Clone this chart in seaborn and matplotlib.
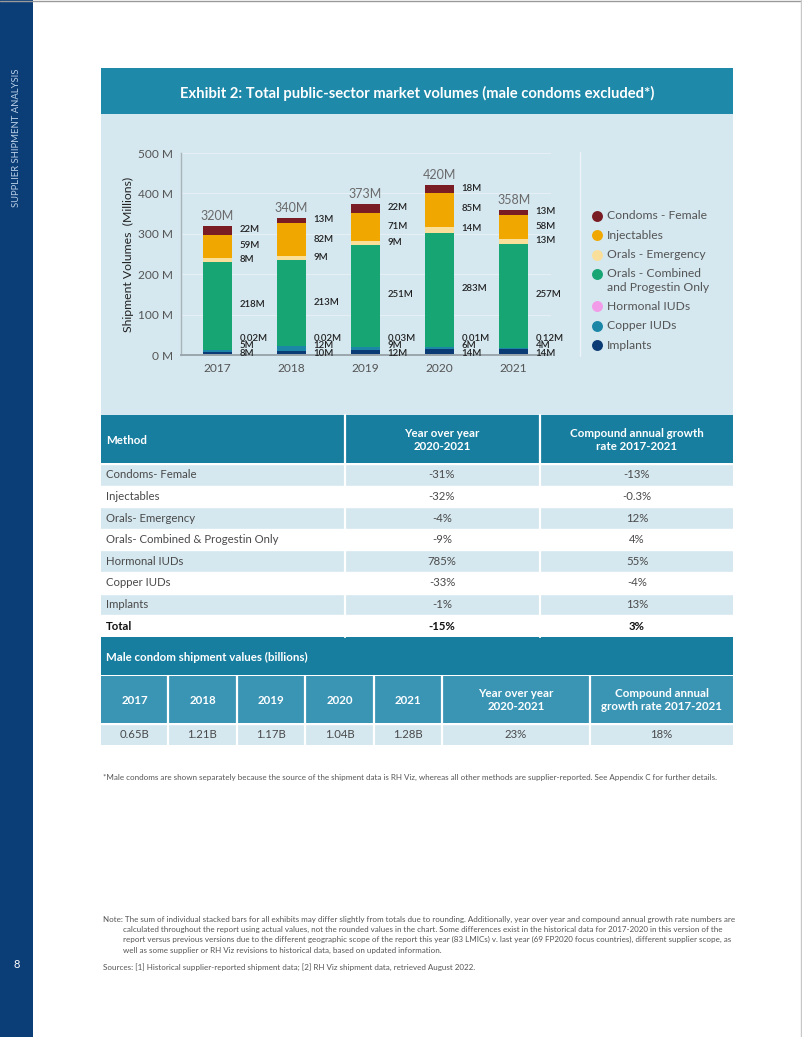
import numpy as np
import pandas as pd
import matplotlib
matplotlib.use("Agg")
import matplotlib.pyplot as plt
from matplotlib.patches import Rectangle
import seaborn as sns

# ---- data read from the exhibit ----
years = ["2017", "2018", "2019", "2020", "2021"]
implants = [8, 10, 12, 14, 14]
copper_iuds = [5, 12, 9, 6, 4]
hormonal_iuds = [0.02, 0.02, 0.03, 0.01, 0.12]
orals_combined = [218, 213, 251, 283, 257]
orals_emergency = [8, 9, 9, 14, 13]
injectables = [59, 82, 71, 85, 58]
condoms_female = [22, 13, 22, 18, 13]
total_labels = ["320M", "340M", "373M", "420M", "358M"]

series_names = ["Implants", "Copper IUDs", "Hormonal IUDs",
                "Orals - Combined\nand Progestin Only", "Orals - Emergency",
                "Injectables", "Condoms - Female"]
series_colors = ["#0B3B74", "#1B86A6", "#F29BE8", "#17A673",
                 "#FADF9B", "#F0A800", "#7A1C24"]

methods = ["Condoms- Female", "Injectables", "Orals- Emergency",
           "Orals- Combined & Progestin Only", "Hormonal IUDs",
           "Copper IUDs", "Implants", "Total"]
yoy_2020_2021 = ["-31%", "-32%", "-4%", "-9%", "785%", "-33%", "-1%", "-15%"]
cagr_2017_2021 = ["-13%", "-0.3%", "12%", "4%", "55%", "-4%", "13%", "3%"]

male_values = ["0.65B", "1.21B", "1.17B", "1.04B", "1.28B"]
male_yoy = "23%"
male_cagr = "18%"

sns.set_theme(style="white")
plt.rcParams["font.family"] = ["Lato", "DejaVu Sans"]

TEAL_TITLE = "#1E89A9"
TEAL_HEAD = "#177E9F"
TEAL_SUB = "#3A95B5"
PANEL = "#D5E7EF"
TXT = "#4a4a4a"

fig = plt.figure(figsize=(8.02, 10.37), dpi=100)
fig.patch.set_facecolor("white")

# page layer in pixel coordinates
pg = fig.add_axes([0, 0, 1, 1], zorder=0)
pg.set_xlim(0, 802)
pg.set_ylim(1037, 0)
pg.axis("off")


def box(x, y, w, h, c):
    pg.add_patch(Rectangle((x, y), w, h, color=c, lw=0))


# sidebar and page edges
box(0, 0, 33, 1037, "#0B3D77")
pg.plot([0, 802], [0.5, 0.5], color="#9a9a9a", lw=1)
pg.plot([800.5, 800.5], [0, 1037], color="#c8c8c8", lw=1)
pg.text(17, 138, "SUPPLIER SHIPMENT ANALYSIS", rotation=90, ha="center",
        va="center", color="#b9cfe6", fontsize=6.8)
pg.text(17, 965, "8", ha="center", va="center", color="white", fontsize=8)

# title band and chart panel
box(101, 68, 632, 46, TEAL_TITLE)
box(101, 114, 632, 301, PANEL)
pg.text(417, 93, "Exhibit 2: Total public-sector market volumes (male condoms excluded*)",
        ha="center", va="center", color="white", fontsize=10.6, fontweight="bold")
pg.plot([580, 580], [152, 356], color="#eef4f7", lw=1)

# ---- stacked bars ----
ax = fig.add_axes([181 / 802, 1 - 355 / 1037, 370 / 802, 202 / 1037], zorder=2)
ax.set_facecolor("none")
stack = np.array([implants, copper_iuds, hormonal_iuds, orals_combined,
                  orals_emergency, injectables, condoms_female], dtype=float)
cum = stack.cumsum(axis=0)
for i in range(len(stack) - 1, -1, -1):
    df = pd.DataFrame({"year": years, "value": cum[i]})
    sns.barplot(data=df, x="year", y="value", color=series_colors[i],
                width=0.4, saturation=1, linewidth=0, ax=ax)

ax.set_xlim(-0.493, 4.504)
ax.set_ylim(0, 500)
ax.set_yticks(range(0, 501, 100))
ax.set_yticklabels([f"{v} M" for v in range(0, 501, 100)])
ax.yaxis.grid(True, color="#e6eff3", lw=0.8)
ax.set_axisbelow(True)
for s in ["top", "right"]:
    ax.spines[s].set_visible(False)
ax.spines["left"].set_color("#a8b4ba")
ax.spines["left"].set_linewidth(1)
ax.spines["bottom"].set_color("#9aa6ac")
ax.spines["bottom"].set_linewidth(1.4)
ax.tick_params(axis="both", length=0, labelsize=8.6, labelcolor="#555555", pad=6)
ax.set_xlabel("")
ax.set_ylabel("Shipment Volumes  (Millions)", fontsize=8.8, color="#222222", labelpad=3)

small_dy = [2, 9.5, 17]  # pixel offsets for the three thin bottom layers
lab_kw = dict(textcoords="offset pixels", ha="left", va="center",
              fontsize=6.9, color="#222222", fontweight="semibold")
for j in range(len(years)):
    for i in range(len(stack)):
        v = stack[i, j]
        lab = f"{v:g}M"
        if i < 3:
            ax.annotate(lab, (j + 0.2, 0), xytext=(7, small_dy[i]), **lab_kw)
        else:
            mid = cum[i, j] - v / 2 + 2
            ax.annotate(lab, (j + 0.2, mid), xytext=(7, 0), **lab_kw)
    ax.annotate(total_labels[j], (j, cum[-1, j]), xytext=(0, 10),
                textcoords="offset pixels", ha="center", va="center",
                fontsize=9, color="#6a6a6a")

# legend
ly = 215.7
for i in range(len(stack) - 1, -1, -1):
    pg.scatter([597], [ly], s=62, color=series_colors[i], lw=0)
    lines = series_names[i].split("\n")
    for k, line in enumerate(lines):
        pg.text(607, ly + k * 13.6, line, ha="left", va="center",
                fontsize=8.7, color="#555555")
    ly += 19.4 + 13.0 * (len(lines) - 1)

# ---- growth table ----
box(101, 415, 632, 48, TEAL_HEAD)
pg.text(106, 440, "Method", ha="left", va="center", color="white",
        fontsize=8.3, fontweight="bold")
pg.text(442, 440, "Year over year\n2020-2021", ha="center", va="center",
        color="white", fontsize=8.3, fontweight="bold", linespacing=1.25)
pg.text(637, 440, "Compound annual growth\nrate 2017-2021", ha="center",
        va="center", color="white", fontsize=8.3, fontweight="bold", linespacing=1.25)
row_h = 21.6
for r, m in enumerate(methods):
    y0 = 464 + r * row_h
    if r % 2 == 0:
        box(101, y0, 632, row_h, PANEL)
    pg.plot([101, 733], [y0, y0], color="white", lw=1)
    bold = m == "Total"
    kw = dict(va="center", fontsize=8.2,
              color="#111111" if bold else TXT,
              fontweight="bold" if bold else "normal")
    yc = y0 + row_h / 2
    pg.text(106, yc, m, ha="left", **kw)
    pg.text(442, yc, yoy_2020_2021[r], ha="center", **kw)
    pg.text(637, yc, cagr_2017_2021[r], ha="center", **kw)
for xs in [345, 540]:
    pg.plot([xs, xs], [415, 637], color="white", lw=1.6)

# ---- male condom table ----
box(101, 637, 632, 38, TEAL_HEAD)
pg.text(106, 657, "Male condom shipment values (billions)", ha="left",
        va="center", color="white", fontsize=8.3, fontweight="bold")
box(101, 676, 632, 47, TEAL_SUB)
box(101, 724, 632, 21, PANEL)
col_edges = [101, 168, 237, 305, 374, 442, 590, 733]
heads = years + ["Year over year\n2020-2021", "Compound annual\ngrowth rate 2017-2021"]
vals = male_values + [male_yoy, male_cagr]
for c in range(len(heads)):
    xc = (col_edges[c] + col_edges[c + 1]) / 2
    pg.text(xc, 700, heads[c], ha="center", va="center", color="white",
            fontsize=8.3, fontweight="bold", linespacing=1.25)
    pg.text(xc, 735, vals[c], ha="center", va="center", color=TXT, fontsize=8.2)
for xs in col_edges[1:-1]:
    pg.plot([xs, xs], [676, 745], color="white", lw=1.6)
pg.plot([101, 733], [723.5, 723.5], color="white", lw=1)

# ---- notes ----
note_kw = dict(ha="left", va="center", fontsize=5.8, color="#555555")
pg.text(103, 777, "*Male condoms are shown separately because the source of the shipment "
        "data is RH Viz, whereas all other methods are supplier-reported. See Appendix C "
        "for further details.", **note_kw)
note_lines = [
    "Note: The sum of individual stacked bars for all exhibits may differ slightly from totals "
    "due to rounding. Additionally, year over year and compound annual growth rate numbers are",
    "calculated throughout the report using actual values, not the rounded values in the "
    "chart. Some differences exist in the historical data for 2017-2020 in this version of the",
    "report versus previous versions due to the different geographic scope of the report "
    "this year (83 LMICs) v. last year (69 FP2020 focus countries), different supplier scope, as",
    "well as some supplier or RH Viz revisions to historical data, based on updated information.",
]
for k, line in enumerate(note_lines):
    pg.text(103 if k == 0 else 123, 919 + k * 10.4, line, **note_kw)
pg.text(103, 967, "Sources: [1] Historical supplier-reported shipment data; [2] RH Viz "
        "shipment data, retrieved August 2022.", **note_kw)

fig.savefig("out.png", dpi=100)
